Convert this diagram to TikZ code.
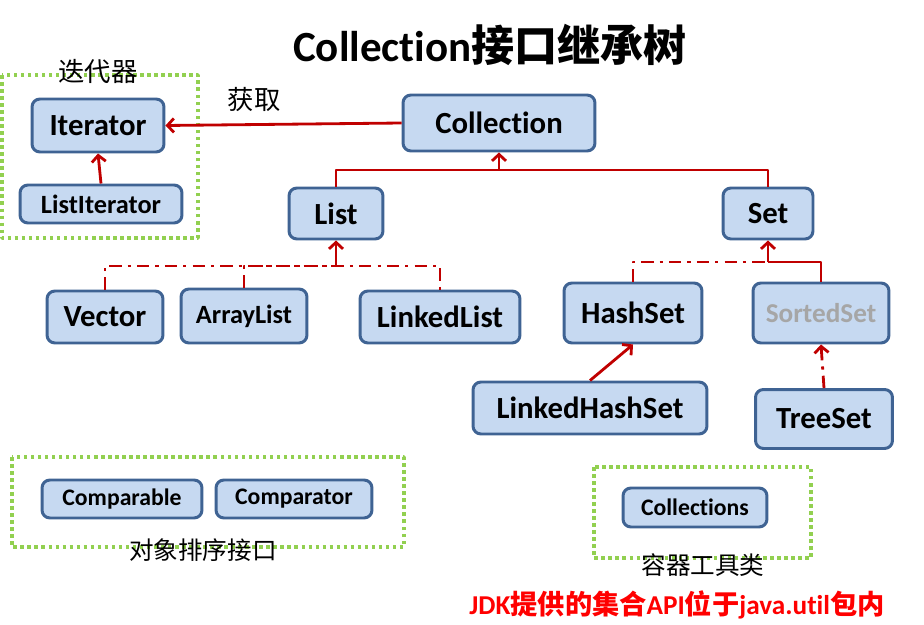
\documentclass[tikz,border=0pt]{standalone}
\usepackage{fontspec}
\setmainfont{Carlito}[Ligatures=NoCommon]
\newfontfamily\cjk{Noto Sans CJK SC}
\usetikzlibrary{arrows.meta}
\definecolor{boxfill}{HTML}{C6D9F1}
\definecolor{boxline}{HTML}{3F6393}
\definecolor{linkred}{HTML}{C00000}
\definecolor{grpgreen}{HTML}{92D050}
\definecolor{greytext}{HTML}{A6A6A6}
\begin{document}
\begin{tikzpicture}[x=0.02cm,y=-0.02cm,line join=round,>={Straight Barb[length=1.3mm,width=2.8mm]},
  box/.style={draw=boxline,fill=boxfill,line width=1.7pt,rounded corners=4.5pt,inner sep=0pt,font=\fontsize{17.5}{21}\selectfont\bfseries},
  smallbox/.style={box,font=\fontsize{15}{18}\selectfont\bfseries},
  tinybox/.style={box,font=\fontsize{13.5}{16}\selectfont\bfseries},
  conn/.style={draw=linkred,line width=1.6pt},
  dashconn/.style={conn,dash pattern=on 7pt off 3.5pt on 1.8pt off 3.5pt},
  grp/.style={draw=grpgreen,line width=2pt,dash pattern=on 2pt off 2pt},
  cn/.style={font=\cjk\fontsize{15}{18}\selectfont}]
\useasboundingbox (0,0) rectangle (924,625);

% groups
\draw[grp] (2,75) rectangle (198,238);
\draw[grp] (12,457) rectangle (404,547);
\draw[grp] (594,467) rectangle (811,558);

% boxes
\node[box,minimum width=3.84cm,minimum height=1.12cm] (coll) at (499,123) {Collection};
\node[box,minimum width=2.64cm,minimum height=1.06cm] (itr) at (98,125.5) {Iterator};
\node[smallbox,minimum width=3.24cm,minimum height=0.76cm] (litr) at (101,204) {ListIterator};
\node[box,minimum width=1.88cm,minimum height=1.02cm] (list) at (336,213.5) {List};
\node[box,minimum width=1.80cm,minimum height=1.02cm] (set) at (768,213.5) {Set};
\node[box,minimum width=2.32cm,minimum height=1.04cm] (vec) at (105,317) {Vector};
\node[smallbox,minimum width=2.52cm,minimum height=1.08cm] (alist) at (244,316) {ArrayList};
\node[box,minimum width=3.20cm,minimum height=1.04cm] (llist) at (440,317) {LinkedList};
\node[box,minimum width=2.76cm,minimum height=1.20cm] (hset) at (633,313) {HashSet};
\node[box,minimum width=2.72cm,minimum height=1.20cm,text=greytext,font=\fontsize{15.5}{19}\selectfont\bfseries] (sset) at (821,313) {SortedSet};
\node[box,minimum width=4.68cm,minimum height=1.04cm] (lhset) at (590,408) {LinkedHashSet};
\node[box,minimum width=2.74cm,minimum height=1.18cm] (tset) at (824,419) {TreeSet};
\node[tinybox,minimum width=3.20cm,minimum height=0.76cm] (cmpb) at (122,499) {Comparable};
\node[tinybox,minimum width=3.12cm,minimum height=0.76cm] (cmpt) at (294,499) {Comparator};
\node[tinybox,minimum width=2.88cm,minimum height=0.78cm] (colls) at (695,507.5) {Collections};

% texts
\node[font=\fontsize{24.5}{29}\selectfont\bfseries] (title) at (490,45) {Collection{\cjk 接口继承树}};
\node[cn] (itrlab) at (98,72) {迭代器};
\node[cn] (getlab) at (254,100) {获取};
\node[cn,font=\cjk\fontsize{14}{17}\selectfont] (sortlab) at (203,550) {对象排序接口};
\node[cn,font=\cjk\fontsize{14}{17}\selectfont] (toollab) at (703,565) {容器工具类};
\node[text=red,font=\fontsize{15.5}{19}\selectfont\bfseries] (note) at (677,605) {JDK{\cjk 提供的集合}API{\cjk 位于}java.util{\cjk 包内}};

% joins
\coordinate (jtop) at (499,170);
\coordinate (jlist) at (336,266);
\coordinate (jset) at (768,262);

% connectors
\draw[conn,->] (coll.west) -- (itr.east);
\draw[conn,->] (litr.north) -- (itr.south);
\draw[conn] (list.north) |- (jtop) -| (set.north);
\draw[conn,->] (jtop) -- (coll.south);
\draw[dashconn] (vec.north) |- (jlist) -| (llist.north);
\draw[dashconn] (alist.north) |- (jlist);
\draw[conn,->] (jlist) -- (list.south);
\draw[dashconn] (hset.north) |- (jset);
\draw[conn] (jset) -| (sset.north);
\draw[conn,->] (jset) -- (set.south);
\draw[conn,->] (lhset.north) -- (hset.south);
\draw[dashconn,->] (tset.north) -- (sset.south);
\end{tikzpicture}
\end{document}
